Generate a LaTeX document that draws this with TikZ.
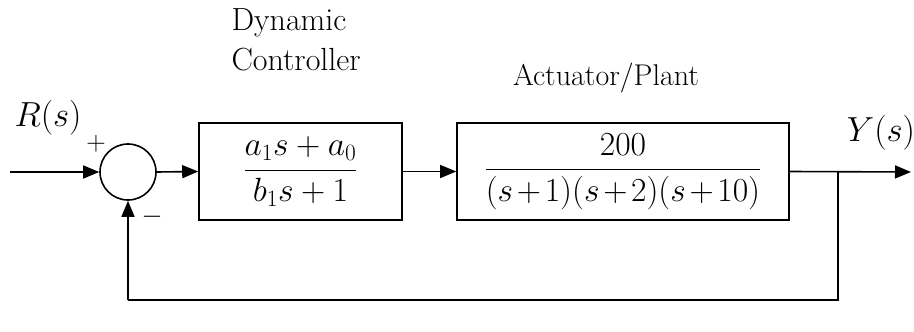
\documentclass[tikz,border=0pt]{standalone}
\usepackage{fontspec}
\usetikzlibrary{arrows.meta}
\begin{document}
\begin{tikzpicture}[x=1pt,y=-1pt,
  sig/.style={line width=1.6pt,-{Triangle[length=16pt,width=13pt]}},
  wire/.style={line width=1.6pt},
  blk/.style={draw,line width=1.6pt,minimum height=97pt,inner sep=0pt},
  sumnode/.style={draw,circle,line width=1.6pt,minimum size=56pt,inner sep=0pt},
  lbl/.style={font=\fontsize{32}{40}\selectfont},
  mlbl/.style={font=\fontsize{27}{32}\selectfont,scale=1.4},
  frac/.style={font=\fontsize{27}{32}\selectfont,scale=1.35},
  sgn/.style={font=\fontsize{20}{22}\selectfont,scale=1.3}]
\useasboundingbox (0,0) rectangle (914,332);
\coordinate (in) at (10,172);
\node[sumnode] (sum) at (128,172) {};
\node[blk,minimum width=203pt] (ctrl) at (300.5,171.5) {};
\node[blk,minimum width=332pt] (plant) at (623,171.5) {};
\node[frac] (ctrlf) at (ctrl.center) {$\medmuskip=4mu\displaystyle\frac{a_1s+a_0}{b_1s+1}$};
\node[frac] (plantf) at (plant.center) {$\medmuskip=2mu\displaystyle\frac{200}{(s+1)(s+2)(s+10)}$};
\coordinate (br) at (838,172);
\coordinate (out) at (911,172);
\coordinate (fb1) at (838,300);
\coordinate (fb2) at (128,300);
\draw[sig] (in) -- (sum.west);
\draw[sig] (sum.east) -- (ctrl.west);
\draw[sig] (ctrl.east) -- (plant.west);
\draw[sig] (plant.east) -- (out);
\draw[wire] (br) -- (fb1) -- (fb2);
\draw[sig] (fb2) -- (sum.south);
\node[mlbl] (rs) at (48,118) {$R(s)$};
\node[mlbl] (ys) at (881,133) {$Y(s)$};
\node[sgn] (plus) at (96,144) {$+$};
\node[sgn] (minus) at (152,217) {$-$};
\node[lbl,anchor=west,align=left] (dc) at (228,40) {Dynamic\\Controller};
\node[lbl,font=\fontsize{30}{36}\selectfont] (ap) at (606,78) {Actuator/Plant};
\end{tikzpicture}
\end{document}
